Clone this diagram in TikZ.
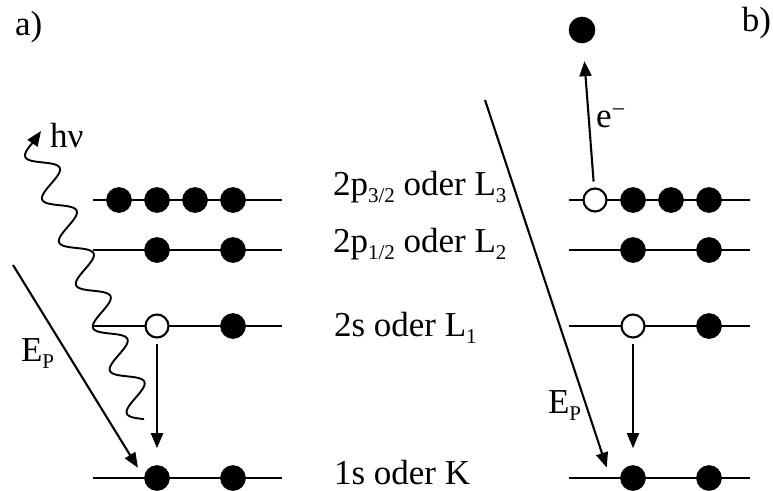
\documentclass[tikz,border=0pt]{standalone}
\usepackage{fontspec}
\setmainfont{Liberation Serif}
\usetikzlibrary{arrows.meta}
\newcommand{\lowidx}[1]{\raisebox{-0.2em}{\fontsize{21}{21}\selectfont #1}}

\begin{document}
\begin{tikzpicture}[x=1pt,y=-1pt,line width=2.1pt,
    txt/.style={font=\fontsize{35}{40}\selectfont,inner sep=0pt},
    full/.style={circle,fill=black,draw=black,line width=0.6pt,minimum size=25pt,inner sep=0pt},
    hole/.style={circle,fill=white,draw=black,line width=2.1pt,minimum size=23pt,inner sep=0pt},
    arr/.style={-{Triangle[length=15pt,width=12pt]}}]
    \useasboundingbox (0,0) rectangle (773,490);
    % energy levels
    \foreach \lev/\y in {L3/200,L2/250,L1/326,K/478}{
        \coordinate (a-\lev-s) at (93,\y);
        \coordinate (a-\lev-e) at (282,\y);
        \coordinate (b-\lev-s) at (569,\y);
        \coordinate (b-\lev-e) at (750,\y);
        \draw (a-\lev-s) -- (a-\lev-e);
        \draw (b-\lev-s) -- (b-\lev-e);
    }
    % electrons and holes
    \foreach \name/\x/\y/\kind in {
        a-L3-0/119/200/full,a-L3-1/157/200/full,a-L3-2/195/200/full,a-L3-3/233/200/full,
        a-L2-1/157/250/full,a-L2-3/233/250/full,
        a-L1-1/157/326/hole,a-L1-3/233/326/full,
        a-K-1/157/478/full,a-K-3/233/478/full,
        b-L3-0/595/200/hole,b-L3-1/633/200/full,b-L3-2/671/200/full,b-L3-3/709/200/full,
        b-L2-1/633/250/full,b-L2-3/709/250/full,
        b-L1-1/633/326/hole,b-L1-3/709/326/full,
        b-K-1/633/478/full,b-K-3/709/478/full}{
        \node[style=\kind] (\name) at (\x,\y) {};
    }
    \node[full,minimum size=26pt] (free) at (582,30) {};
    % level names
    \node[txt,anchor=base west] (nL3) at (332,195) {2p\lowidx{3/2} oder L\lowidx{3}};
    \node[txt,anchor=base west] (nL2) at (332,252) {2p\lowidx{1/2} oder L\lowidx{2}};
    \node[txt,anchor=base west] (nL1) at (333,336) {2s oder L\lowidx{1}};
    \node[txt,anchor=base west] (nK) at (333,484) {1s oder K};
    \node[txt,anchor=base west] (pa) at (14,35) {a)};
    \node[txt,anchor=base east] (pb) at (772,31) {b)};
    % panel a
    \coordinate (epa) at (13,265);
    \draw[arr,shorten >=12pt] (epa) -- (a-K-1.west);
    \node[txt,anchor=base west] (lepa) at (20,361) {E\lowidx{P}};
    \draw[arr,shorten <=5pt,shorten >=17pt] (a-L1-1) -- (a-K-1);
    % photon
    \coordinate (wtip) at (41,131);
    \draw[arr,line width=1.9pt] plot[domain=0:299,samples=240,smooth,variable=\t]
        ({144.1-0.368*\t-13.02*sin(7.826*\t)},{419.1-0.93*\t+5.15*sin(7.826*\t)}) -- (wtip);
    \node[txt,anchor=base west] (hnu) at (49,147) {hν};
    % panel b
    \coordinate (epb) at (485,100);
    \draw[arr,shorten >=11pt] (epb) -- ([xshift=-10pt]b-K-1.west);
    \node[txt,anchor=base west] (lepb) at (547,413) {E\lowidx{P}};
    \draw[arr,shorten <=5pt,shorten >=17pt] (b-L1-1) -- (b-K-1);
    \draw[arr,shorten <=6pt,shorten >=18pt] (b-L3-0) -- (free);
    \node[txt,anchor=base west] (lel) at (595,127) {e\textsuperscript{−}};
\end{tikzpicture}
\end{document}
